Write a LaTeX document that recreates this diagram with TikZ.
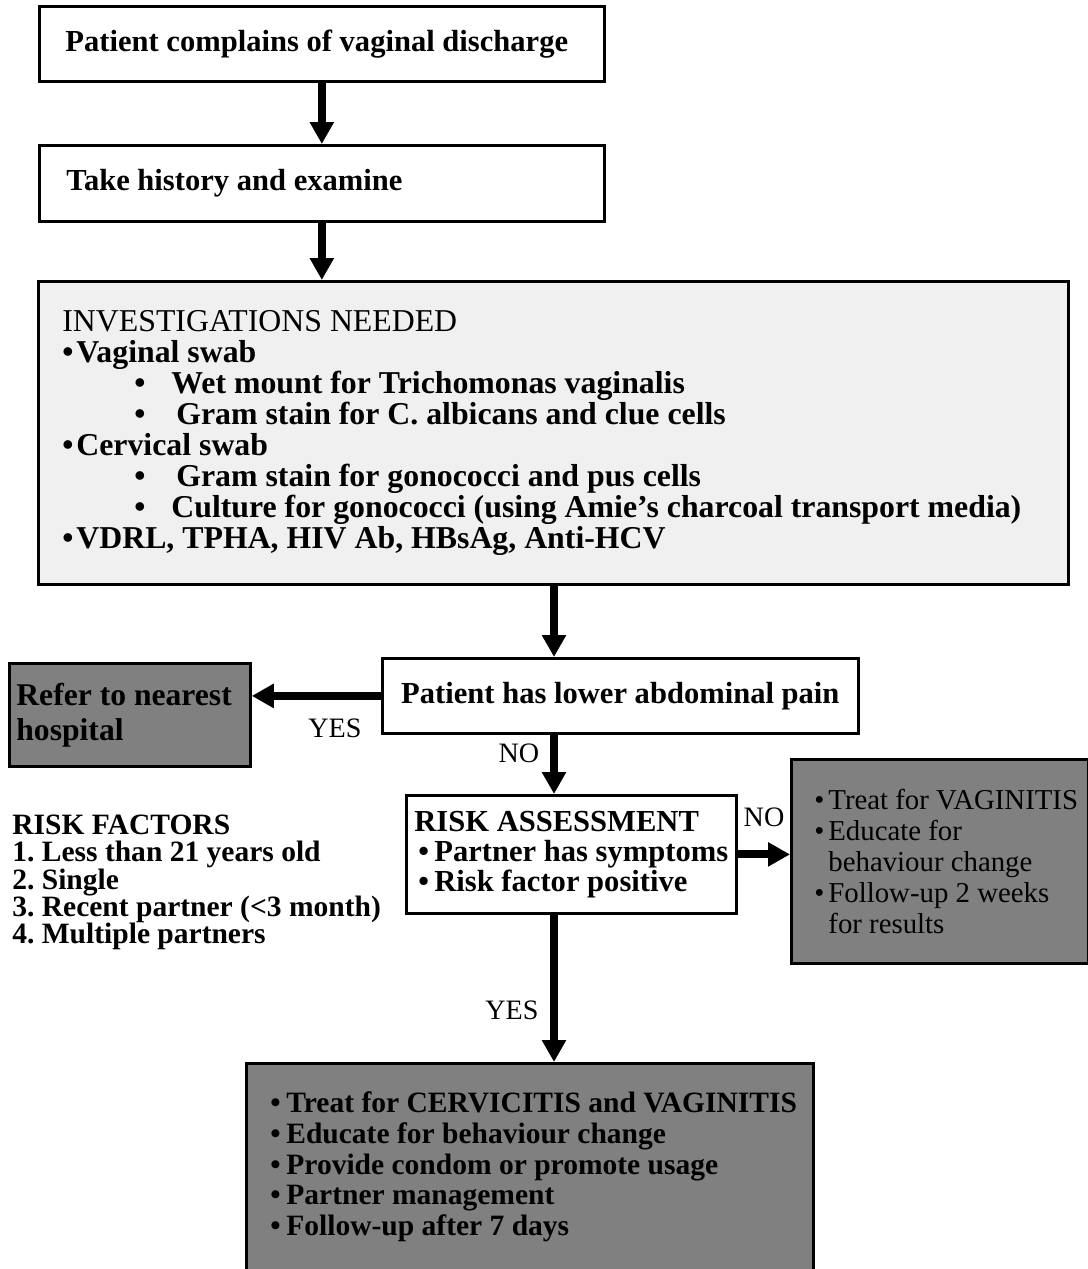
\documentclass[tikz,border=0pt]{standalone}
\usepackage{fontspec}
\setmainfont{Liberation Serif}
\frenchspacing
\usetikzlibrary{arrows.meta,positioning}
\newcommand{\dotitem}[3]{\hspace*{#1}\makebox[#2][l]{•}\mbox{#3}}
\tikzset{
flowbox/.style={rectangle,draw=black,line width=1.6pt,anchor=north west,inner sep=0pt,
  align=flush left,font=\fontsize{17.4}{17}\selectfont\bfseries},
testbox/.style={flowbox,fill=black!6,font=\fontsize{18.1}{17.6}\selectfont\bfseries},
darkbox/.style={flowbox,fill=black!50},
flowarr/.style={line width=4.5pt,-{Triangle[length=0.44cm,width=0.46cm]}},
flowlabel/.style={font=\fontsize{16}{16}\selectfont}
}
\begin{document}
\begin{tikzpicture}[x=0.02cm,y=-0.02cm]
\useasboundingbox (0,0) rectangle (1088,1269);
\node[flowbox,text width=11.3cm,minimum height=1.5cm] (complain) at (38,5)
  {\hspace*{0.52cm}Patient complains of vaginal discharge};
\node[flowbox,text width=11.3cm,minimum height=1.52cm] (history) at (38,144)
  {\hspace*{0.54cm}Take history and examine};
\node[testbox,text width=20.6cm,minimum height=6.06cm] (invest) at (37,280)
  {\hspace*{0.48cm}{\mdseries INVESTIGATIONS NEEDED}\\
   \dotitem{0.48cm}{0.28cm}{Vaginal swab}\\
   \dotitem{1.92cm}{0.74cm}{Wet mount for Trichomonas vaginalis}\\
   \dotitem{1.92cm}{0.84cm}{Gram stain for C. albicans and clue cells}\\
   \dotitem{0.48cm}{0.28cm}{Cervical swab}\\
   \dotitem{1.92cm}{0.84cm}{Gram stain for gonococci and pus cells}\\
   \dotitem{1.92cm}{0.74cm}{Culture for gonococci (using Amie’s charcoal transport media)}\\
   \dotitem{0.48cm}{0.28cm}{VDRL, TPHA, HIV Ab, HBsAg, Anti-HCV}};
\node[flowbox,align=flush center,text width=9.52cm,minimum height=1.5cm] (pain) at (381,657)
  {Patient has lower abdominal pain};
\node[darkbox,text width=4.82cm,minimum height=2.06cm,font=\fontsize{18}{20}\selectfont\bfseries] (refer) at (8,662)
  {\hspace*{0.14cm}Refer to nearest\\\hspace*{0.14cm}hospital};
\node[flowbox,text width=6.6cm,minimum height=2.36cm] (risk) at (405,794)
  {\hspace*{0.16cm}RISK ASSESSMENT\\
   \dotitem{0.24cm}{0.32cm}{Partner has symptoms}\\
   \dotitem{0.24cm}{0.32cm}{Risk factor positive}};
\node[darkbox,text width=5.94cm,minimum height=4.08cm,font=\fontsize{16.4}{17.7}\selectfont] (vagin) at (790,758)
  {\dotitem{0.46cm}{0.28cm}{Treat for VAGINITIS}\\
   \dotitem{0.46cm}{0.28cm}{Educate for}\\
   \hspace*{0.74cm}behaviour change\\
   \dotitem{0.46cm}{0.28cm}{Follow-up 2 weeks}\\
   \hspace*{0.74cm}for results};
\node[darkbox,text width=11.34cm,minimum height=4.14cm,font=\fontsize{16.8}{17.5}\selectfont\bfseries] (care) at (245,1062)
  {\dotitem{0.48cm}{0.32cm}{Treat for CERVICITIS and VAGINITIS}\\
   \dotitem{0.48cm}{0.32cm}{Educate for behaviour change}\\
   \dotitem{0.48cm}{0.32cm}{Provide condom or promote usage}\\
   \dotitem{0.48cm}{0.32cm}{Partner management}\\
   \dotitem{0.48cm}{0.32cm}{Follow-up after 7 days}};
\node[anchor=north west,inner sep=0pt,align=flush left,font=\fontsize{16.8}{15.4}\selectfont\bfseries] (factors) at (12,815)
  {RISK FACTORS\\1. Less than 21 years old\\2. Single\\3. Recent partner (<3 month)\\4. Multiple partners};
% yes/no labels
\node[flowlabel] (yes1) at (335,728) {YES};
\node[flowlabel] (no1) at (519,753) {NO};
\node[flowlabel] (no2) at (764,817) {NO};
\node[flowlabel] (yes2) at (512,1010) {YES};
% arrows
\coordinate (spine) at (554,600);
\draw[flowarr] (complain) -- (history);
\draw[flowarr] (history.south) -- (history.south |- invest.north);
\draw[flowarr] (invest.south -| spine) -- (pain.north -| spine);
\draw[flowarr] (pain.west) -- (pain.west -| refer.east);
\draw[flowarr] (pain.south -| spine) -- (risk.north -| spine);
\draw[flowarr] (risk.east) -- (risk.east -| vagin.west);
\draw[flowarr] (risk.south -| spine) -- (care.north -| spine);
\end{tikzpicture}
\end{document}
